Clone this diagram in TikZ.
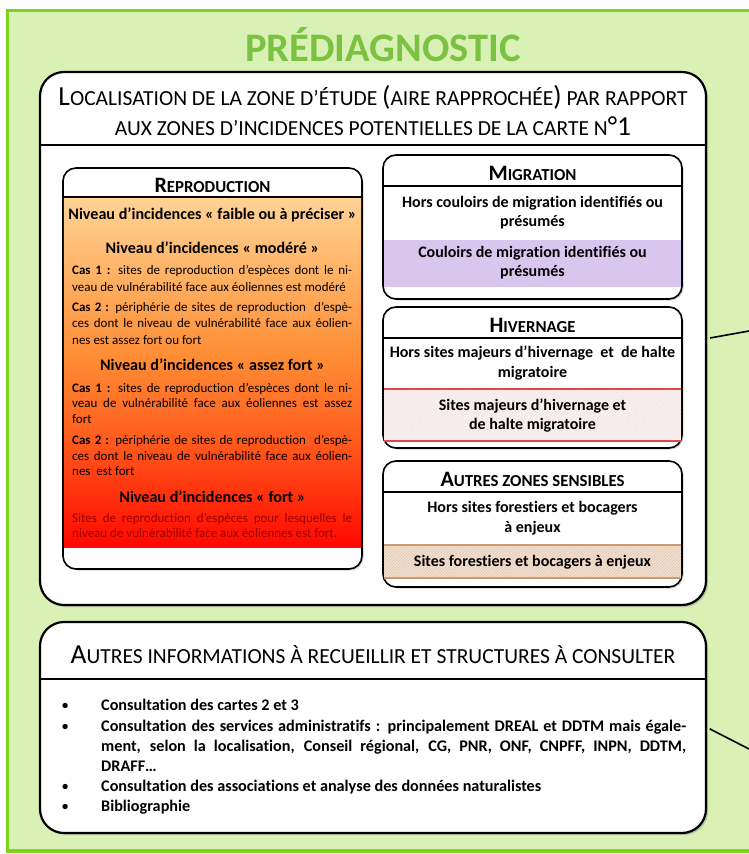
\documentclass[tikz,border=0pt]{standalone}
\usepackage{fontspec}
\setmainfont{Carlito}[Ligatures=NoCommon]
\usetikzlibrary{shadows,patterns.meta}
\definecolor{bgGreen}{HTML}{D9F1B4}
\definecolor{borderGreen}{HTML}{7ED321}
\definecolor{titleGreen}{HTML}{7CC242}
\definecolor{purpleBand}{HTML}{D9C6EE}
\definecolor{pinkBand}{HTML}{FAF2F2}
\definecolor{pinkHatch}{HTML}{EADADA}
\definecolor{redLine}{HTML}{E04848}
\definecolor{tanBand}{HTML}{F1E0D0}
\definecolor{tanHatch}{HTML}{DCC0A8}
\definecolor{tanLine}{HTML}{C79A74}
\definecolor{redText}{HTML}{9A0000}
\definecolor{rA}{HTML}{FF0800}
\definecolor{rB}{HTML}{FF5A1C}
\definecolor{rC}{HTML}{FF8C34}
\definecolor{rD}{HTML}{FFB264}
\definecolor{rE}{HTML}{FFD398}
\pgfdeclareverticalshading{reproshade}{100bp}{color(0bp)=(rA); color(25bp)=(rA); color(40bp)=(rB); color(52bp)=(rC); color(64bp)=(rD); color(75bp)=(rE); color(100bp)=(rE)}
\newcommand{\HB}{\fontsize{27.5}{30}\selectfont}
\newcommand{\HS}{\fontsize{21.5}{30}\selectfont}
\newcommand{\SCb}[2]{{\fontsize{22}{24}\selectfont #1}{\fontsize{16.8}{24}\selectfont #2}}
\begin{document}
\begin{tikzpicture}[x=1pt,y=-1pt,
  box/.style={draw, line width=1.6pt, rounded corners=13pt, fill=white, inner sep=0pt,
    drop shadow={opacity=0.35, shadow xshift=1.5pt, shadow yshift=-1.5pt}},
  bigbox/.style={draw, line width=2.2pt, rounded corners=24pt, fill=white, inner sep=0pt,
    drop shadow={opacity=0.4, shadow xshift=2pt, shadow yshift=-2pt}},
  divider/.style={line width=1.3pt},
  hdr/.style={inner sep=0pt},
  subhdr/.style={inner sep=0pt, font=\bfseries},
  lvl/.style={inner sep=0pt, font=\bfseries\fontsize{16.1}{19}\selectfont},
  rtxt/.style={anchor=base west, inner sep=0pt, font=\fontsize{13}{15}\selectfont},
  bodyR/.style={inner sep=0pt, align=center, font=\bfseries\fontsize{16}{19.5}\selectfont},
  ltxt/.style={anchor=base west, inner sep=0pt, font=\bfseries\fontsize{16.2}{17}\selectfont},
  bul/.style={anchor=base west, inner sep=0pt, font=\bfseries\fontsize{12.5}{14}\selectfont},
  conn/.style={line width=1.6pt, shorten <=3pt}
]
\useasboundingbox (0,0) rectangle (749,854);
\fill[white] (0,0) rectangle (749,854);
\draw[line width=3.5pt, draw=borderGreen, fill=bgGreen] (7.5,10.5) rectangle (770,851);

\node[inner sep=0pt, text=titleGreen, font=\bfseries\fontsize{40.5}{44}\selectfont] (title) at (383,45) {PRÉDIAGNOSTIC};

% main box
\node[bigbox, minimum width=666pt, minimum height=533pt] (main) at (373,338.5) {};
\draw[divider, line width=1.8pt] (40,145) -- (706,145);
\node[hdr] (h1) at (373,97) {{\HB L}{\HS OCALISATION DE LA ZONE D’ÉTUDE }{\HB(}{\HS AIRE RAPPROCHÉE}{\HB)}{\HS\ PAR RAPPORT}};
\node[hdr] (h2) at (373,126) {{\HS AUX ZONES D’INCIDENCES POTENTIELLES DE LA CARTE N}{\HB°1}};

% reproduction
\node[box, minimum width=299pt, minimum height=401pt] (repro) at (212.5,368.5) {};
\shade[shading=reproshade] (63.8,197) rectangle (361.2,547);
\draw[divider] (63,197) -- (362,197);
\node[subhdr] (reproh) at (212.5,185) {\SCb{R}{EPRODUCTION}};
\node[lvl] (lv1) at (212.5,215) {Niveau d’incidences «~faible ou à préciser~»};
\node[lvl] (lv2) at (212.5,248) {Niveau d’incidences «~modéré~»};
\node[rtxt] (r1) at (72,274) {\makebox[280pt][s]{\textbf{Cas 1 :} sites de reproduction d’espèces dont le ni-}};
\node[rtxt] (r2) at (72,291) {veau de vulnérabilité face aux éoliennes est modéré};
\node[rtxt] (r3) at (72,311) {\makebox[280pt][s]{\textbf{Cas 2 :} périphérie de sites de reproduction\ \ d’espè-}};
\node[rtxt] (r4) at (72,327) {\makebox[280pt][s]{ces dont le niveau de vulnérabilité face aux éolien-}};
\node[rtxt] (r5) at (72,344) {nes est assez fort ou fort};
\node[lvl] (lv3) at (212.5,365) {Niveau d’incidences «~assez fort~»};
\node[rtxt] (r6) at (72,392) {\makebox[280pt][s]{\textbf{Cas 1 :} sites de reproduction d’espèces dont le ni-}};
\node[rtxt] (r7) at (72,407) {\makebox[280pt][s]{veau de vulnérabilité face aux éoliennes est assez}};
\node[rtxt] (r8) at (72,423) {fort};
\node[rtxt] (r9) at (72,444) {\makebox[280pt][s]{\textbf{Cas 2 :} périphérie de sites de reproduction\ \ d’espè-}};
\node[rtxt] (r10) at (72,460) {\makebox[280pt][s]{ces dont le niveau de vulnérabilité face aux éolien-}};
\node[rtxt] (r11) at (72,475) {nes\ \ est fort};
\node[lvl] (lv4) at (212.5,497) {Niveau d’incidences «~fort~»};
\node[rtxt, text=redText] (r12) at (72,522) {\makebox[280pt][s]{Sites de reproduction d’espèces pour lesquelles le}};
\node[rtxt, text=redText] (r13) at (72,537) {niveau de vulnérabilité face aux éoliennes est fort.};

% migration
\node[box, minimum width=299pt, minimum height=144pt] (migr) at (532.5,227) {};
\fill[purpleBand] (383.8,240) rectangle (681.2,287);
\draw[divider] (383,186) -- (682,186);
\node[subhdr] (migrh) at (532.5,173) {\SCb{M}{IGRATION}};
\node[bodyR] (migr1) at (532.5,212.5) {Hors couloirs de migration identifiés ou\\présumés};
\node[bodyR] (migr2) at (532.5,262.5) {Couloirs de migration identifiés ou\\présumés};

% hivernage
\node[box, minimum width=299pt, minimum height=141pt] (hiver) at (532.5,377.5) {};
\fill[pinkBand] (383.8,389) rectangle (681.2,441);
\fill[pattern={Lines[angle=45,distance=2.2pt,line width=0.35pt]}, pattern color=pinkHatch] (383.8,389) rectangle (681.2,441);
\draw[redLine, line width=1.3pt] (383.8,389) -- (681.2,389);
\draw[redLine, line width=1.3pt] (383.8,441) -- (681.2,441);
\draw[divider] (383,338) -- (682,338);
\node[subhdr] (hiverh) at (532.5,325) {\SCb{H}{IVERNAGE}};
\node[bodyR] (hiver1) at (532.5,363) {Hors sites majeurs d’hivernage\ \ et\ \ de halte\\migratoire};
\node[bodyR] (hiver2) at (532.5,415.5) {Sites majeurs d’hivernage et\\de halte migratoire};

% autres zones sensibles
\node[box, minimum width=299pt, minimum height=126pt] (autres) at (532.5,524) {};
\fill[tanBand] (383.8,545) rectangle (681.2,578);
\fill[pattern={Lines[angle=45,distance=2.2pt,line width=0.35pt]}, pattern color=tanHatch] (383.8,545) rectangle (681.2,578);
\draw[tanLine, line width=1.1pt] (383.8,545) -- (681.2,545);
\draw[tanLine, line width=1.1pt] (383.8,578) -- (681.2,578);
\draw[divider] (383,492) -- (682,492);
\node[subhdr] (autresh) at (532.5,479) {\SCb{A}{UTRES ZONES SENSIBLES}};
\node[bodyR] (autres1) at (532.5,518) {Hors sites forestiers et bocagers\\à enjeux};
\node[bodyR] (autres2) at (532.5,562) {Sites forestiers et bocagers à enjeux};

% autres informations
\node[bigbox, minimum width=666pt, minimum height=211pt] (infos) at (373,727.5) {};
\draw[divider, line width=1.8pt] (40,679) -- (706,679);
\node[hdr] (infosh) at (373,655) {{\HB A}{\HS UTRES INFORMATIONS À RECUEILLIR ET STRUCTURES À CONSULTER}};
\node[bul] (bu1) at (62,709.5) {•};
\node[bul] (bu2) at (62,730.5) {•};
\node[bul] (bu3) at (62,790.5) {•};
\node[bul] (bu4) at (62,810.5) {•};
\node[ltxt] (l1) at (101,710.5) {Consultation des cartes 2 et 3};
\node[ltxt] (l2) at (101,731.5) {\makebox[585pt][s]{Consultation des services administratifs : principalement DREAL et DDTM mais égale-}};
\node[ltxt] (l3) at (101,751.5) {\makebox[585pt][s]{ment, selon la localisation, Conseil régional, CG, PNR, ONF, CNPFF, INPN, DDTM,}};
\node[ltxt] (l4) at (101,771.5) {DRAFF…};
\node[ltxt] (l5) at (101,791.5) {Consultation des associations et analyse des données naturalistes};
\node[ltxt] (l6) at (101,811.5) {Bibliographie};

% connectors
\coordinate (e1) at (749,331);
\coordinate (e2) at (749,749);
\draw[conn] (main.east) -- (e1);
\draw[conn] (infos.east) -- (e2);
\end{tikzpicture}
\end{document}
